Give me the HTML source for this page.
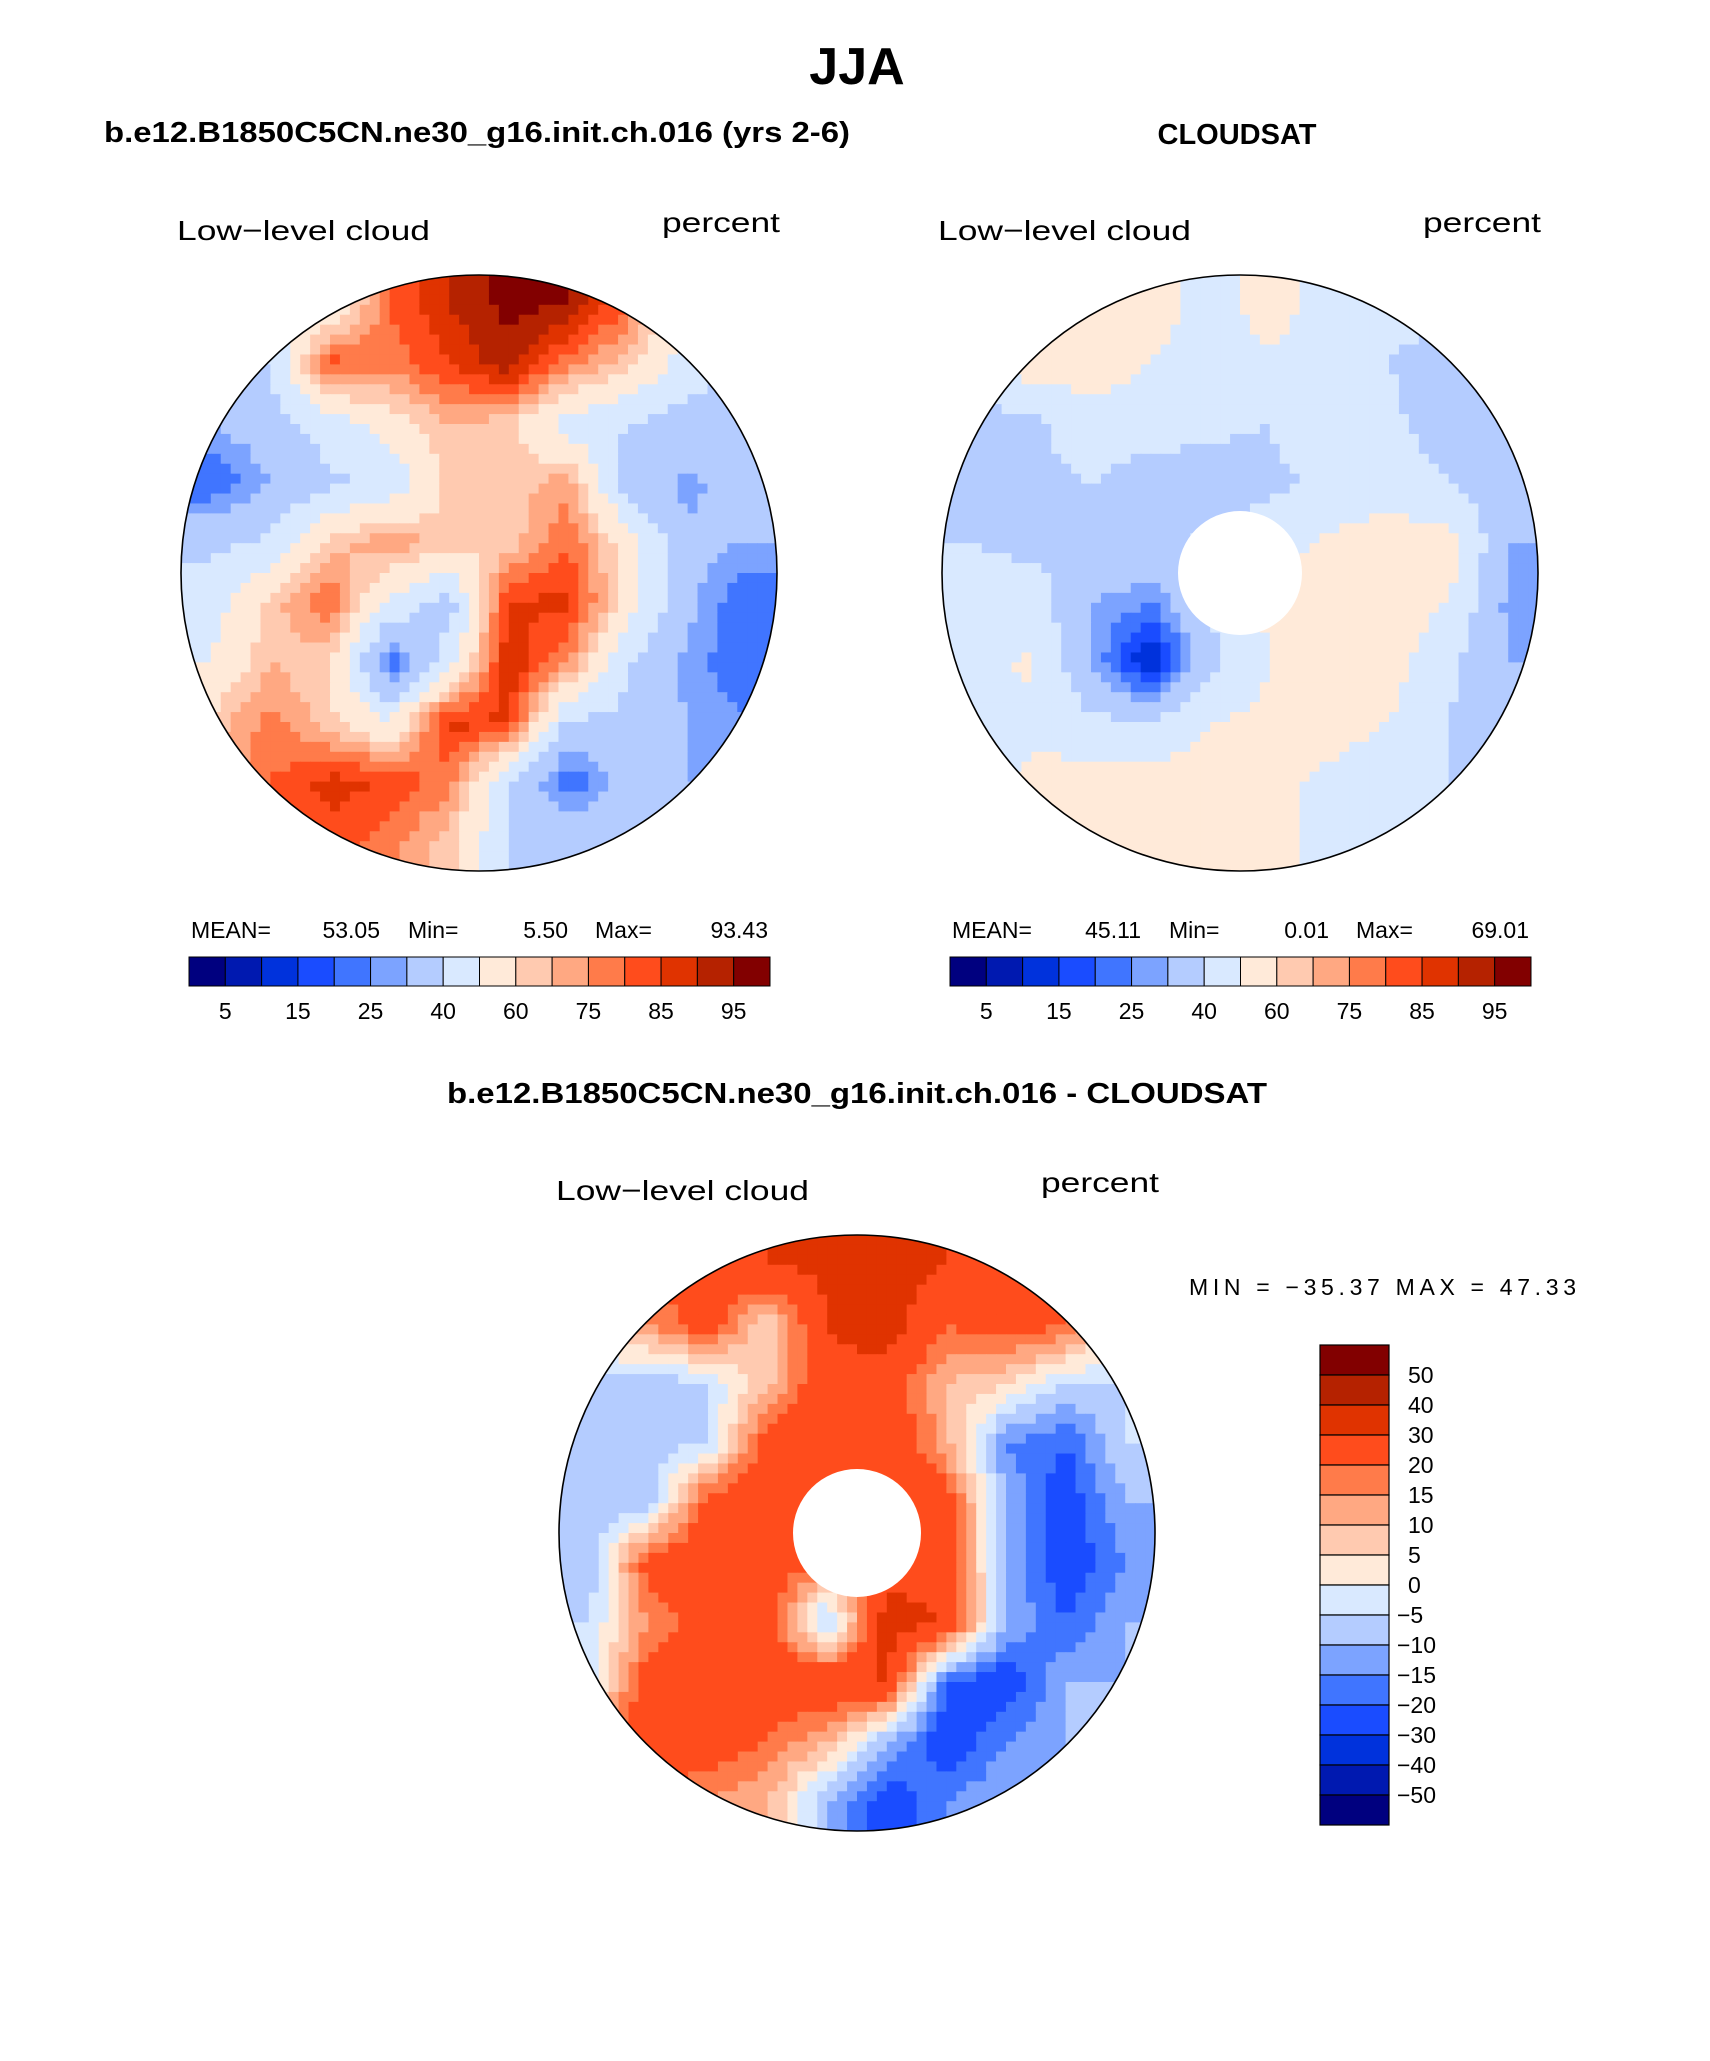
<!DOCTYPE html>
<html><head><meta charset="utf-8"><style>
body{margin:0;background:#fff}
svg text{font-family:"Liberation Sans",sans-serif}
</style></head><body>
<svg id="fig" xmlns="http://www.w3.org/2000/svg" width="1710" height="2056" viewBox="0 0 1710 2056">
<rect width="1710" height="2056" fill="#fff"/>
<text x="857" y="84" font-size="52" font-weight="bold" text-anchor="middle">JJA</text>
<text x="104" y="142" font-size="29" font-weight="bold" textLength="746" lengthAdjust="spacingAndGlyphs">b.e12.B1850C5CN.ne30_g16.init.ch.016 (yrs 2-6)</text>
<text x="1237" y="144" font-size="29" font-weight="bold" text-anchor="middle">CLOUDSAT</text>
<text x="857" y="1103" font-size="29" font-weight="bold" text-anchor="middle" textLength="820" lengthAdjust="spacingAndGlyphs">b.e12.B1850C5CN.ne30_g16.init.ch.016 - CLOUDSAT</text>
<g id="panels"></g>
</svg>
<script>
const absLevels=[5,10,15,20,25,30,40,50,60,65,70,75,80,85,90,95];
const absTicks=["5","15","25","40","60","75","85","95"];
const diffLevels=[-50,-40,-30,-20,-15,-10,-5,0,5,10,15,20,30,40,50];
const diffTicks=["50","40","30","20","15","10","5","0","\u22125","\u221210","\u221215","\u221220","\u221230","\u221240","\u221250"];
const colors=["#00007f","#0019b0","#0032dc","#1a4cff","#4075ff","#7ca3ff","#b4ccff","#d9e9ff","#ffead9","#ffcab0","#ffa882","#ff7b4a","#ff4c1c","#e03300","#b52200","#820000"];
const modelGrid=[
[50,50,50,75,85,92,90,75,50,50],
[40,40,78,72,80,88,72,62,45,40],
[30,35,45,55,65,62,45,40,35,35],
[20,30,38,42,62,62,68,35,28,35],
[38,42,62,70,62,62,75,55,32,30],
[45,62,75,48,35,80,82,55,32,20],
[50,65,60,20,45,85,70,40,28,20],
[62,72,62,50,82,80,38,38,30,25],
[65,75,82,80,72,40,20,35,30,30],
[70,75,78,72,62,40,38,40,35,35]];
const obsGrid=[
[45,45,55,55,45,55,45,42,45,45],
[45,55,55,50,45,48,45,40,35,40],
[35,38,45,45,42,40,48,42,35,35],
[35,38,40,35,35,38,42,45,40,35],
[40,38,40,38,42,45,52,55,55,30],
[42,45,30,25,40,52,55,55,50,28],
[45,52,30,8,38,50,55,55,42,30],
[45,48,42,40,50,52,55,50,40,32],
[45,52,55,55,55,52,48,42,40,35],
[50,50,55,55,58,55,45,42,40,40]];
const diffGrid=[
[20,20,25,30,32,35,30,28,20,20],
[10,15,25,5,30,35,20,25,20,0],
[-8,-10,-5,8,28,25,10,5,-5,-5],
[-10,-8,-5,25,30,28,12,-15,-20,-5],
[-10,-8,25,28,30,30,25,-10,-25,-10],
[-10,25,25,25,20,25,25,-10,-25,-15],
[-5,15,25,25,-10,35,30,-10,-20,-10],
[-5,25,25,25,30,30,-20,-25,-10,-10],
[20,25,25,20,10,-10,-25,-15,-10,-10],
[20,20,15,10,-10,-25,-15,-10,-10,-10]];
const stats=[{mean:"53.05",min:"5.50",max:"93.43"},{mean:"45.11",min:"0.01",max:"69.01"}];
const diffStats={min:"\u221235.37",max:"47.33"};

const NS="http://www.w3.org/2000/svg";
const root=document.getElementById('panels');
function mk(tag,attrs,parent){const e=document.createElementNS(NS,tag);for(const k in attrs)e.setAttribute(k,attrs[k]);(parent||root).appendChild(e);return e;}
function colorFor(v,levels){let i=0;while(i<levels.length&&v>=levels[i])i++;return colors[Math.min(i,colors.length-1)];}
function sample(g,fx,fy){const n=g.length;const x=Math.max(0,Math.min(n-1,fx)),y=Math.max(0,Math.min(n-1,fy));const x0=Math.floor(x),y0=Math.floor(y),x1=Math.min(n-1,x0+1),y1=Math.min(n-1,y0+1);const tx=x-x0,ty=y-y0;return (g[y0][x0]*(1-tx)+g[y0][x1]*tx)*(1-ty)+(g[y1][x0]*(1-tx)+g[y1][x1]*tx)*ty;}
function drawMap(name,cx,cy,r,grid,levels,holeR){
  const g=mk('g',{});
  
  
  const cid=name+'-clip';
  const cp=mk('clipPath',{id:cid},g);mk('circle',{cx:cx,cy:cy,r:r},cp);
  const cells=mk('g',{'clip-path':'url(#'+cid+')'},g);
  const N=60,step=2*r/N,n=grid.length;
  for(let j=0;j<N;j++)for(let i=0;i<N;i++){
    const fx=(i+0.5)/N*n-0.5,fy=(j+0.5)/N*n-0.5;
    const v=sample(grid,fx,fy);
    const c=mk('rect',{x:(cx-r+i*step).toFixed(2),y:(cy-r+j*step).toFixed(2),width:(step+0.6).toFixed(2),height:(step+0.6).toFixed(2),fill:colorFor(v,levels)},cells);
    
    
  }
  if(holeR){const h=mk('circle',{cx:cx,cy:cy,r:holeR,fill:'#fff'},g);}
  const o=mk('circle',{cx:cx,cy:cy,r:r,fill:'none',stroke:'#000','stroke-width':1.6},g);
  
  
}
function labels(x1,x2,y){
  const a=mk('text',{x:x1,y:y,'font-size':28,textLength:253,lengthAdjust:'spacingAndGlyphs'});a.textContent='Low\u2212level cloud';
  
  const b=mk('text',{x:x2,y:y-8,'font-size':28,textLength:118,lengthAdjust:'spacingAndGlyphs'});b.textContent='percent';
  
}
labels(177,662,240);labels(938,1423,240);labels(556,1041,1200);
drawMap('model-map',479,573,298,modelGrid,absLevels,0);
drawMap('obs-map',1240,573,298,obsGrid,absLevels,62);
drawMap('diff-map',857,1533,298,diffGrid,diffLevels,64);

function hbar(off,st,idx){
  const x0=189+off,w=581/16;
  const g=mk('g',{});
  
  
  colors.forEach((c,i)=>{const r=mk('rect',{x:x0+i*w,y:957,width:w,height:29,fill:c,stroke:'#000','stroke-width':1},g);});
  absTicks.forEach((t,k)=>{const tx=mk('text',{x:x0+w*(2*k+1),y:1019,'font-size':23,'text-anchor':'middle'},g);tx.textContent=t;});
  const parts=[["MEAN=",191,"start"],[st.mean,380,"end"],["Min=",408,"start"],[st.min,568,"end"],["Max=",595,"start"],[st.max,768,"end"]];
  parts.forEach(p=>{const t=mk('text',{x:p[1]+off,y:938,'font-size':23,'text-anchor':p[2]});t.textContent=p[0];});
}
hbar(0,stats[0],'model');hbar(761,stats[1],'obs');

(function(){
  const g=mk('g',{});
  
  
  const x=1320,w=69,h=30,y0=1345;
  colors.slice().reverse().forEach((c,i)=>{const r=mk('rect',{x:x,y:y0+i*h,width:w,height:h,fill:c,stroke:'#000','stroke-width':1.2},g);});
  diffTicks.forEach((t,k)=>{const tx=mk('text',{x:t.charAt(0)==='\u2212'?1397:1408,y:y0+h*(k+1)+8,'font-size':23},g);tx.textContent=t;});
  const m=mk('text',{x:1189,y:1295,'font-size':23,textLength:387,lengthAdjust:'spacing'},g);
  m.textContent='MIN = '+diffStats.min+' MAX = '+diffStats.max;
  
  
})();
</script>
</body></html>
